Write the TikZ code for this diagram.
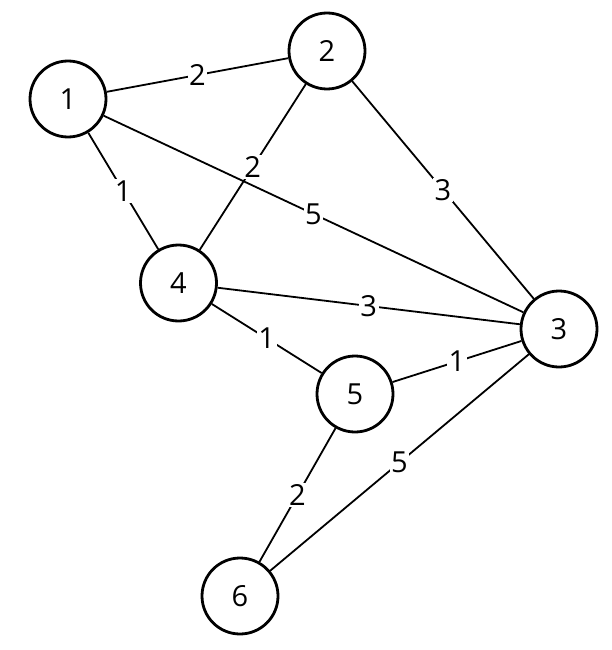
\documentclass[tikz,border=0pt]{standalone}
\usepackage{fontspec}
\setmainfont{Open Sans}
\begin{document}
\begin{tikzpicture}[x=1pt,y=-1pt,
  vert/.style={circle,draw=black,line width=2.8pt,fill=white,minimum size=76pt,inner sep=0pt,font=\fontsize{29}{33}\selectfont},
  edge/.style={line width=1.8pt,black},
  wlabel/.style={fill=white,inner sep=1.5pt,font=\fontsize{29}{33}\selectfont,midway}]
\useasboundingbox (0,0) rectangle (612,650);
\node[vert] (n1) at (68,99) {1};
\node[vert] (n2) at (327,51) {2};
\node[vert] (n3) at (559,329) {3};
\node[vert] (n4) at (178.5,283) {4};
\node[vert] (n5) at (355,394) {5};
\node[vert] (n6) at (240,596) {6};
\draw[edge] (n1) -- node[wlabel] {2} (n2);
\draw[edge] (n1) -- node[wlabel] {1} (n4);
\draw[edge] (n1) -- node[wlabel] {5} (n3);
\draw[edge] (n2) -- node[wlabel] {2} (n4);
\draw[edge] (n2) -- node[wlabel] {3} (n3);
\draw[edge] (n4) -- node[wlabel] {3} (n3);
\draw[edge] (n4) -- node[wlabel] {1} (n5);
\draw[edge] (n5) -- node[wlabel] {1} (n3);
\draw[edge] (n5) -- node[wlabel] {2} (n6);
\draw[edge] (n6) -- node[wlabel] {5} (n3);
\end{tikzpicture}
\end{document}
